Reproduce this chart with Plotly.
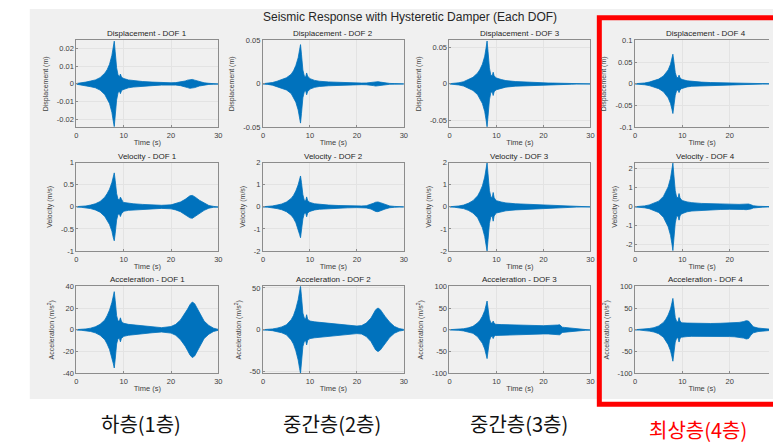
import plotly.graph_objects as go

W, H = 773, 448

# ---------------- data (envelopes) ----------------
TIME = [0, 1, 2, 3, 4, 5, 6, 6.5, 7, 7.5, 7.8, 8.0, 8.2, 8.5, 8.8, 9.1, 9.3, 9.5, 9.8,
        10, 11, 12, 14, 16, 18, 20, 21, 22, 23, 23.5, 24, 24.5, 25, 26, 27, 28, 29, 30]

DISP_1 = [0.0002, 0.0004, 0.001, 0.0016, 0.0022, 0.0035, 0.006, 0.008, 0.011, 0.016, 0.021, 0.024,
          0.018, 0.009, 0.005, 0.004, 0.0055, 0.004, 0.0033, 0.003, 0.0022, 0.0018, 0.0013, 0.001,
          0.0007, 0.0006, 0.0007, 0.001, 0.0016, 0.0021, 0.0025, 0.0025, 0.0021, 0.0012, 0.0006,
          0.0003, 0.0002, 0.0001]
DISP_2 = [0.0002, 0.0006, 0.0015, 0.003, 0.005, 0.007, 0.011, 0.015, 0.021, 0.03, 0.039, 0.045,
          0.034, 0.016, 0.009, 0.008, 0.0125, 0.009, 0.007, 0.006, 0.004, 0.003, 0.0022, 0.0016,
          0.0012, 0.001, 0.0009, 0.001, 0.0015, 0.002, 0.0025, 0.0025, 0.002, 0.0011, 0.0005,
          0.0003, 0.0002, 0.0001]
DISP_3 = [0.0002, 0.0006, 0.0015, 0.003, 0.006, 0.009, 0.015, 0.02, 0.027, 0.038, 0.05, 0.059,
          0.045, 0.022, 0.012, 0.011, 0.016, 0.011, 0.009, 0.008, 0.006, 0.0045, 0.0032, 0.0024,
          0.0018, 0.0014, 0.0012, 0.0011, 0.001, 0.001, 0.0009, 0.0008, 0.0007, 0.0005, 0.0003,
          0.0002, 0.0001, 0.0001]
DISP_4 = [0.0003, 0.0008, 0.002, 0.004, 0.007, 0.011, 0.018, 0.024, 0.032, 0.045, 0.058, 0.068,
          0.052, 0.026, 0.015, 0.014, 0.02, 0.014, 0.011, 0.01, 0.007, 0.0055, 0.004, 0.003,
          0.0024, 0.002, 0.0018, 0.0017, 0.0017, 0.0017, 0.0015, 0.0012, 0.0009, 0.0006, 0.0004,
          0.0003, 0.0002, 0.0001]

VEL_1 = [0.005, 0.01, 0.02, 0.04, 0.07, 0.12, 0.22, 0.3, 0.4, 0.55, 0.7, 0.77, 0.6, 0.3, 0.17,
         0.16, 0.22, 0.16, 0.12, 0.1, 0.08, 0.07, 0.055, 0.045, 0.035, 0.045, 0.07, 0.11, 0.17,
         0.21, 0.25, 0.26, 0.23, 0.15, 0.08, 0.03, 0.01, 0.005]
VEL_2 = [0.005, 0.015, 0.04, 0.08, 0.13, 0.22, 0.38, 0.52, 0.72, 1.0, 1.25, 1.4, 1.1, 0.55, 0.3,
         0.28, 0.45, 0.3, 0.22, 0.2, 0.14, 0.11, 0.08, 0.06, 0.045, 0.035, 0.04, 0.05, 0.1, 0.16,
         0.21, 0.22, 0.19, 0.1, 0.04, 0.02, 0.008, 0.004]
VEL_3 = [0.005, 0.015, 0.04, 0.08, 0.16, 0.28, 0.5, 0.7, 0.95, 1.35, 1.75, 2.0, 1.5, 0.75, 0.45,
         0.42, 0.65, 0.42, 0.32, 0.28, 0.22, 0.18, 0.14, 0.12, 0.1, 0.08, 0.075, 0.07, 0.065,
         0.06, 0.05, 0.04, 0.03, 0.02, 0.012, 0.008, 0.004, 0.002]
VEL_4 = [0.005, 0.02, 0.05, 0.1, 0.18, 0.3, 0.55, 0.78, 1.05, 1.5, 1.95, 2.3, 1.7, 0.85, 0.5,
         0.48, 0.7, 0.48, 0.37, 0.33, 0.26, 0.22, 0.18, 0.16, 0.14, 0.13, 0.13, 0.13, 0.14, 0.15,
         0.15, 0.11, 0.06, 0.03, 0.015, 0.008, 0.004, 0.002]

ACC_1 = [0.2, 0.4, 0.8, 1.5, 2.8, 5, 9, 13, 18, 25, 31, 35, 27, 13, 8, 8, 11, 8, 6.5, 6, 5, 4.5,
         3.5, 2.7, 2, 3, 5, 9, 15, 19, 23, 25.5, 24, 16, 8, 4, 1.5, 0.4]
ACC_2 = [0.2, 0.5, 1, 2, 3.5, 6, 12, 17, 25, 36, 46, 52, 40, 20, 14, 13, 18, 13, 11, 10.5, 9.5, 9,
         7.5, 6.5, 5.5, 4.5, 5, 8, 14, 19, 24, 26, 24, 16, 9, 4, 1.5, 0.5]
ACC_3 = [0.3, 0.6, 1.2, 2.5, 4.5, 8, 16, 22, 31, 44, 57, 66, 50, 25, 16, 15, 20, 15, 13, 12.5, 12,
         11.5, 11, 10.5, 10, 9.5, 9.5, 9.5, 11, 11.5, 6, 5.5, 5, 4, 3, 2, 1, 0.5]
ACC_4 = [0.3, 0.7, 1.5, 3, 5, 9, 17, 24, 34, 48, 62, 72, 55, 28, 19, 18, 28, 20, 17, 16, 15.5, 15,
         14.5, 14.5, 15, 15.5, 16, 17, 19, 21, 20, 12, 7, 4, 2.5, 1.5, 1, 0.5]

ROW_NAMES = ["Displacement", "Velocity", "Acceleration"]
Y_TITLES = ["Displacement (m)", "Velocity (m/s)", "Acceleration (m/s<sup>2</sup>)"]
DOF_NAMES = ["DOF 1", "DOF 2", "DOF 3", "DOF 4"]
ENVELOPES = [[DISP_1, DISP_2, DISP_3, DISP_4],
             [VEL_1, VEL_2, VEL_3, VEL_4],
             [ACC_1, ACC_2, ACC_3, ACC_4]]
Y_LIMITS = [[0.0245, 0.05, 0.06, 0.1],
            [1, 2, 2, 2.32],
            [40, 52, 100, 100]]
Y_TICKS = [[[-0.02, -0.01, 0, 0.01, 0.02], [-0.05, 0, 0.05], [-0.05, 0, 0.05],
            [-0.1, -0.05, 0, 0.05, 0.1]],
           [[-1, -0.5, 0, 0.5, 1], [-2, -1, 0, 1, 2], [-2, -1, 0, 1, 2], [-2, -1, 0, 1, 2]],
           [[-40, -20, 0, 20, 40], [-50, 0, 50], [-100, -50, 0, 50, 100],
            [-100, -50, 0, 50, 100]]]
X_TICKS = [0, 10, 20, 30]
X_MAX = 30
MAIN_TITLE = "Seismic Response with Hysteretic Damper (Each DOF)"
FLOOR_LABELS = ["하층(1층)", "중간층(2층)", "중간층(3층)", "최상층(4층)"]

# ---------------- layout geometry (pixels) ----------------
COL_X = [(75, 218), (263, 405), (451, 593), (638, 781)]
ROW_Y = [(37, 126), (162, 252), (288, 377)]
BLUE = "#0072BD"
FONT = "Liberation Sans, Arial, sans-serif"
TXT = "#404040"


def px_x(x):
    return x / W


def px_y(y):
    return 1 - y / H


fig = go.Figure()
layout = dict(
    width=W, height=H, margin=dict(l=0, r=0, t=0, b=0),
    paper_bgcolor="white", plot_bgcolor="white", showlegend=False,
    font=dict(family=FONT, size=7, color=TXT),
)
annotations = []
shapes = []

# gray figure background
shapes.append(dict(type="rect", xref="paper", yref="paper", layer="below",
                   x0=px_x(28), x1=px_x(800), y0=px_y(403), y1=px_y(5),
                   fillcolor="#f0f0f0", line=dict(width=0)))

idx = 0
for r in range(3):
    for c in range(4):
        idx += 1
        sfx = "" if idx == 1 else str(idx)
        env = ENVELOPES[r][c]
        xs = TIME + TIME[::-1]
        ys = env + [-v for v in env[::-1]]
        fig.add_trace(go.Scatter(x=xs, y=ys, fill="toself", fillcolor=BLUE, mode="lines",
                                 line=dict(color=BLUE, width=0.8),
                                 xaxis="x" + sfx, yaxis="y" + sfx, hoverinfo="skip"))
        x0, x1 = COL_X[c]
        y0, y1 = ROW_Y[r]
        right_px = min(x1, W)
        xmax = X_MAX * (right_px - x0) / (x1 - x0)
        lim = Y_LIMITS[r][c]
        layout["xaxis" + sfx] = dict(
            domain=[px_x(x0), px_x(right_px)], anchor="y" + sfx, range=[0, xmax],
            tickvals=X_TICKS, ticktext=[f"{v:g}" for v in X_TICKS],
            showgrid=True, gridcolor="#e3e3e3", gridwidth=1, zeroline=False,
            showline=True, linecolor="#8c8c8c", linewidth=1, mirror=True,
            ticks="inside", ticklen=2, tickcolor="#8c8c8c", ticklabelstandoff=1,
            tickfont=dict(size=7.5, color=TXT),
            title=dict(text="Time (s)", font=dict(size=7.5, color=TXT), standoff=0),
        )
        layout["yaxis" + sfx] = dict(
            domain=[px_y(y1), px_y(y0)], anchor="x" + sfx, range=[-lim, lim],
            tickvals=Y_TICKS[r][c], ticktext=[f"{v:g}" for v in Y_TICKS[r][c]],
            showgrid=True, gridcolor="#e3e3e3", gridwidth=1, zeroline=False,
            showline=True, linecolor="#8c8c8c", linewidth=1, mirror=(c < 3),
            ticks="inside", ticklen=2, tickcolor="#8c8c8c",
            tickfont=dict(size=7.5, color=TXT),
            title=dict(text=Y_TITLES[r], font=dict(size=7, color=TXT), standoff=7),
        )
        annotations.append(dict(
            text=f"{ROW_NAMES[r]} - {DOF_NAMES[c]}", xref="paper", yref="paper",
            x=px_x((x0 + x1) / 2), y=px_y(y0), xanchor="center", yanchor="bottom",
            showarrow=False, font=dict(size=8, color="#262626", family=FONT)))

# main title
annotations.append(dict(text=MAIN_TITLE, xref="paper", yref="paper",
                        x=px_x(411), y=px_y(13), xanchor="center", yanchor="middle",
                        showarrow=False, font=dict(size=12, color="#262626", family=FONT)))

# floor labels below
label_pos = [(140, 428), (333, 428), (521, 428), (701, 434)]
for i, lab in enumerate(FLOOR_LABELS):
    lx, ly = label_pos[i]
    annotations.append(dict(text=lab, xref="paper", yref="paper", x=px_x(lx), y=px_y(ly),
                            xanchor="center", yanchor="middle", showarrow=False,
                            font=dict(size=20, family="Noto Sans CJK KR",
                                      color="#ff0000" if i == 3 else "#111111")))

# red highlight rectangle around top floor column
shapes.append(dict(type="rect", xref="paper", yref="paper", layer="above",
                   x0=px_x(602), x1=px_x(790), y0=px_y(408.5), y1=px_y(14),
                   line=dict(color="#ff0000", width=5), fillcolor="rgba(0,0,0,0)"))

layout["annotations"] = annotations
layout["shapes"] = shapes
fig.update_layout(**layout)
fig.write_html("out.html", config={"displayModeBar": False},
               post_script="document.body.style.margin='0';document.body.style.overflow='hidden';")
